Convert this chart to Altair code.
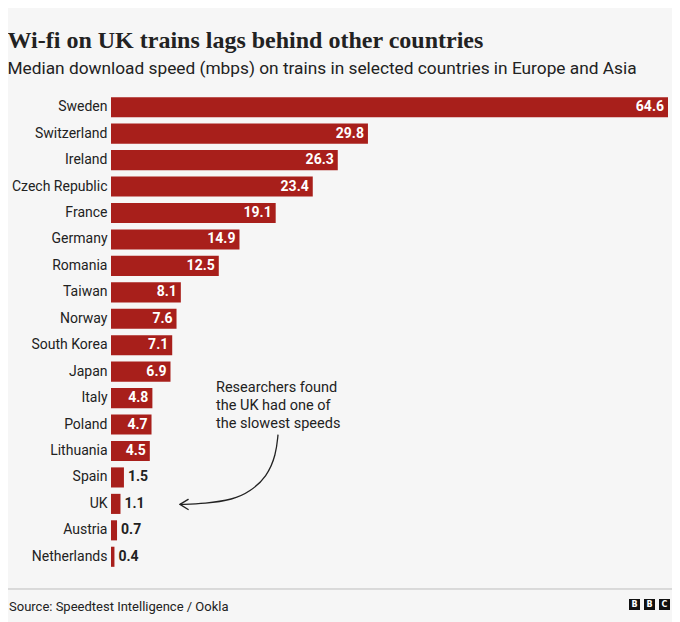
import altair as alt
import pandas as pd

countries = ["Sweden", "Switzerland", "Ireland", "Czech Republic", "France", "Germany",
             "Romania", "Taiwan", "Norway", "South Korea", "Japan", "Italy", "Poland",
             "Lithuania", "Spain", "UK", "Austria", "Netherlands"]
speeds = [64.6, 29.8, 26.3, 23.4, 19.1, 14.9, 12.5, 8.1, 7.6, 7.1, 6.9, 4.8, 4.7, 4.5,
          1.5, 1.1, 0.7, 0.4]

# annotation arrow path, in data units (speed, row position)
arrow_x = [19.37, 19.14, 18.09, 16.12, 14.15, 10.90, 8.0]
arrow_y = [12.88, 13.64, 14.47, 15.04, 15.34, 15.49, 15.52]
head_x = [8.0, 8.0]
head_y = [15.52, 15.52]
head_x2 = [8.95, 8.95]
head_y2 = [15.33, 15.71]

annotation = ["Researchers found", "the UK had one of", "the slowest speeds"]
source = "Source: Speedtest Intelligence / Ookla"

RED = "#a81f1b"
INK = "#222222"
BG = "#f6f6f6"
FONT = "Roboto"

df = pd.DataFrame({"country": countries, "speed": speeds})
df_arrow = pd.DataFrame({"x": arrow_x, "y": arrow_y, "o": list(range(len(arrow_x)))})
df_head = pd.DataFrame({"x": head_x, "y": head_y, "x2": head_x2, "y2": head_y2})

xscale = alt.Scale(domain=[0, 64.6], nice=False, zero=True)
yq = alt.Scale(domain=[0, 18], nice=False, zero=False, reverse=True)
yband = alt.Scale(domain=countries, paddingInner=0.24, paddingOuter=0.12)

base = alt.Chart(df)
y_enc = alt.Y("country:N", sort=countries, scale=yband, title=None,
              axis=alt.Axis(ticks=False, domain=False, labelFont=FONT, labelFontSize=14,
                            labelColor=INK, labelPadding=4, grid=False))
y_plain = alt.Y("country:N", sort=countries, scale=yband, axis=None)
x_enc = alt.X("speed:Q", scale=xscale, axis=None)

bars = base.mark_bar(color=RED, cornerRadius=0).encode(x=x_enc, y=y_enc)

inside = base.transform_filter("datum.speed >= 4").mark_text(
    align="right", baseline="middle", dx=-4, font=FONT, fontSize=14,
    fontWeight="bold", color="white"
).encode(x=x_enc, y=y_plain, text=alt.Text("speed:Q", format=".1f"))

outside = base.transform_filter("datum.speed < 4").mark_text(
    align="left", baseline="middle", dx=4, font=FONT, fontSize=14,
    fontWeight="bold", color=INK
).encode(x=x_enc, y=y_plain, text=alt.Text("speed:Q", format=".1f"))

note = alt.Chart(pd.DataFrame({"t": [annotation]})).mark_text(
    align="left", baseline="alphabetic", font=FONT, fontSize=14.5, color=INK,
    lineHeight=18
).encode(x=alt.value(105), y=alt.value(298), text="t")

curve = alt.Chart(df_arrow).mark_line(color=INK, strokeWidth=1.3, interpolate="basis").encode(
    x=alt.X("x:Q", scale=xscale, axis=None),
    y=alt.Y("y:Q", scale=yq, axis=None),
    order="o:Q")

head = alt.Chart(df_head).mark_rule(color=INK, strokeWidth=1.3, strokeCap="round").encode(
    x=alt.X("x:Q", scale=xscale, axis=None),
    y=alt.Y("y:Q", scale=yq, axis=None),
    x2="x2:Q", y2="y2:Q")

footer_line = alt.Chart(pd.DataFrame({"a": [0]})).mark_rule(color="#bdbdbd", strokeWidth=1).encode(
    x=alt.value(-103), x2=alt.value(564), y=alt.value(495))

footer_text = alt.Chart(pd.DataFrame({"t": [source]})).mark_text(
    align="left", baseline="alphabetic", font=FONT, fontSize=13, color=INK
).encode(x=alt.value(-102), y=alt.value(517), text="t")

logo_letters = ["B", "B", "C"]
logo_layers = []
for i, letter in enumerate(logo_letters):
    x0 = 518 + 15 * i
    logo_layers.append(
        alt.Chart(pd.DataFrame({"a": [0]})).mark_rect(color="#111111").encode(
            x=alt.value(x0), x2=alt.value(x0 + 11), y=alt.value(505), y2=alt.value(516)))
    logo_layers.append(
        alt.Chart(pd.DataFrame({"t": [letter]})).mark_text(
            align="center", baseline="middle", font="DejaVu Sans", fontSize=8,
            fontWeight="bold", color="white"
        ).encode(x=alt.value(x0 + 5.5), y=alt.value(510.8), text="t"))

chart = alt.layer(bars, inside, outside, note, curve, head, footer_line, footer_text,
                  *logo_layers).resolve_scale(y="independent").properties(
    width=557, height=476,
    autosize=alt.AutoSizeParams(type="none"),
    padding={"left": 103, "top": 86, "right": 4, "bottom": 52},
    background=BG,
    title=alt.TitleParams(
        text="Wi-fi on UK trains lags behind other countries",
        subtitle="Median download speed (mbps) on trains in selected countries in Europe and Asia",
        anchor="start", frame="bounds", font="Liberation Serif", fontSize=24,
        fontWeight="bold", color=INK, subtitleFont=FONT, subtitleFontSize=17.3,
        subtitleColor=INK, subtitlePadding=7, offset=17, dx=0),
).configure_view(stroke=None)

chart.save("out.html", embed_options={"renderer": "svg", "actions": False})
